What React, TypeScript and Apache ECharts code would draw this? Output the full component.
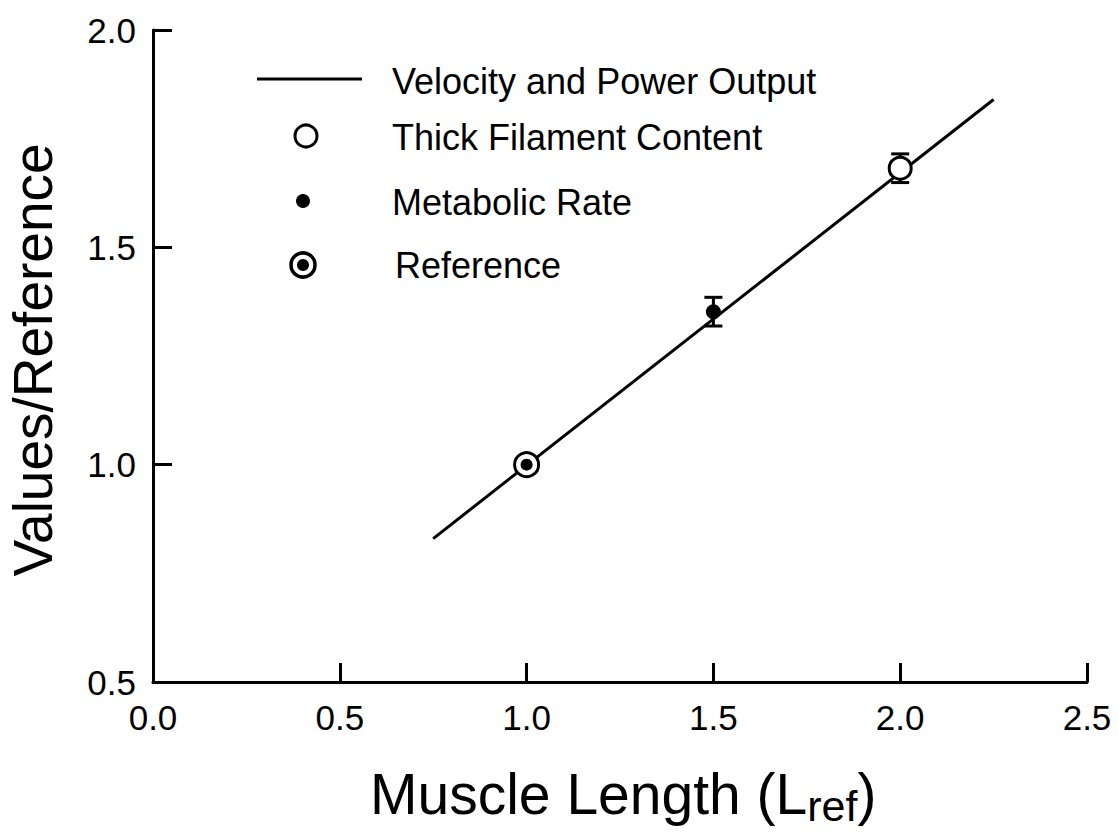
import React, { useEffect, useRef } from "react";
import * as echarts from "echarts";

// ---- data ----
const xAxisMin = 0.0;
const xAxisMax = 2.5;
const yAxisMin = 0.5;
const yAxisMax = 2.0;
const tickStep = 0.5;

const fitLineX = [0.75, 2.25];
const fitLineY = [0.83, 1.84];

const referenceX = [1.0];
const referenceY = [1.0];

const metabolicX = [1.5];
const metabolicY = [1.352];
const metabolicErr = [0.033];

const thickX = [2.0];
const thickY = [1.682];
const thickErr = [0.033];

const legendLabels = [
  "Velocity and Power Output",
  "Thick Filament Content",
  "Metabolic Rate",
  "Reference",
];
const xTitleMain = "Muscle Length (L";
const xTitleSub = "ref";
const xTitleEnd = ")";
const yTitle = "Values/Reference";

const FONT = "'Liberation Sans', Arial, Helvetica, sans-serif";

function measure(text: string, size: number): number {
  const c = document.createElement("canvas");
  const ctx = c.getContext("2d");
  if (!ctx) return text.length * size * 0.55;
  ctx.font = `${size}px "Liberation Sans", Arial, sans-serif`;
  return ctx.measureText(text).width;
}

export default function App() {
  const ref = useRef<HTMLDivElement>(null);
  useEffect(() => {
    if (!ref.current) return;
    const chart = echarts.init(ref.current, null, { renderer: "svg" });

    const mainSize = 57;
    const subSize = 43;
    const mainX = 370;
    const wMain = measure(xTitleMain, mainSize);
    const wSub = measure(xTitleSub, subSize);

    const errData = [
      ...metabolicX.map((x, i) => [x, metabolicY[i], metabolicErr[i]]),
      ...thickX.map((x, i) => [x, thickY[i], thickErr[i]]),
    ];

    const axisCommon = {
      type: "value" as const,
      interval: tickStep,
      splitLine: { show: false },
      axisLine: { show: true, lineStyle: { color: "#000", width: 3 } },
      axisTick: { show: true, inside: true, length: 19, lineStyle: { color: "#000", width: 3 } },
    };

    const labelCommon = {
      fontSize: 35,
      color: "#000",
      fontFamily: FONT,
      showMinLabel: true,
      showMaxLabel: true,
      hideOverlap: false,
      formatter: (v: number) => v.toFixed(1),
    };

    chart.setOption({
      animation: false,
      backgroundColor: "#fff",
      grid: {
        left: 153,
        right: 31,
        top: 30,
        bottom: 150,
        containLabel: false,
        outerBoundsMode: "none",
      },
      xAxis: { ...axisCommon, min: xAxisMin, max: xAxisMax, axisLabel: { ...labelCommon, margin: 18 } },
      yAxis: { ...axisCommon, min: yAxisMin, max: yAxisMax, axisLabel: { ...labelCommon, margin: 17 } },
      series: [
        {
          type: "line",
          data: fitLineX.map((x, i) => [x, fitLineY[i]]),
          symbol: "none",
          lineStyle: { color: "#000", width: 3 },
          z: 1,
        },
        {
          type: "custom",
          data: errData,
          z: 2,
          renderItem: (params: any, api: any) => {
            const x = api.value(0);
            const y = api.value(1);
            const e = api.value(2);
            const top = api.coord([x, y + e]);
            const bot = api.coord([x, y - e]);
            const hw = 9;
            const st = { stroke: "#000", lineWidth: 3 };
            return {
              type: "group",
              children: [
                { type: "line", shape: { x1: top[0], y1: top[1], x2: bot[0], y2: bot[1] }, style: st },
                { type: "line", shape: { x1: top[0] - hw, y1: top[1], x2: top[0] + hw, y2: top[1] }, style: st },
                { type: "line", shape: { x1: bot[0] - hw, y1: bot[1], x2: bot[0] + hw, y2: bot[1] }, style: st },
              ],
            };
          },
        },
        {
          type: "scatter",
          data: thickX.map((x, i) => [x, thickY[i]]),
          symbol: "circle",
          symbolSize: 22,
          itemStyle: { color: "#fff", borderColor: "#000", borderWidth: 3, opacity: 1 },
          z: 3,
        },
        {
          type: "scatter",
          data: metabolicX.map((x, i) => [x, metabolicY[i]]),
          symbol: "circle",
          symbolSize: 15,
          itemStyle: { color: "#000", opacity: 1 },
          z: 3,
        },
        {
          type: "scatter",
          data: referenceX.map((x, i) => [x, referenceY[i]]),
          symbol: "circle",
          symbolSize: 24,
          itemStyle: { color: "#fff", borderColor: "#000", borderWidth: 3, opacity: 1 },
          z: 3,
        },
        {
          type: "scatter",
          data: referenceX.map((x, i) => [x, referenceY[i]]),
          symbol: "circle",
          symbolSize: 12,
          itemStyle: { color: "#000", opacity: 1 },
          z: 4,
        },
      ],
      graphic: [
        // legend symbols
        { type: "line", shape: { x1: 257, y1: 79, x2: 362, y2: 79 }, style: { stroke: "#000", lineWidth: 3 } },
        { type: "circle", shape: { cx: 306, cy: 136, r: 11 }, style: { fill: "#fff", stroke: "#000", lineWidth: 3 } },
        { type: "circle", shape: { cx: 303, cy: 201, r: 7 }, style: { fill: "#000" } },
        { type: "circle", shape: { cx: 303, cy: 265, r: 12 }, style: { fill: "#fff", stroke: "#000", lineWidth: 3.5 } },
        { type: "circle", shape: { cx: 303, cy: 265, r: 6 }, style: { fill: "#000" } },
        // legend texts
        ...legendLabels.map((t, i) => ({
          type: "text",
          x: i === 3 ? 395 : 392,
          y: [81, 137.5, 202, 265.5][i],
          style: { text: t, font: `36px ${FONT}`, fill: "#000", textAlign: "left", textVerticalAlign: "middle" },
        })),
        // x title
        {
          type: "text",
          x: mainX,
          y: 794,
          style: { text: xTitleMain, font: `${mainSize}px ${FONT}`, fill: "#000", textAlign: "left", textVerticalAlign: "middle" },
        },
        {
          type: "text",
          x: mainX + wMain,
          y: 806,
          style: { text: xTitleSub, font: `${subSize}px ${FONT}`, fill: "#000", textAlign: "left", textVerticalAlign: "middle" },
        },
        {
          type: "text",
          x: mainX + wMain + wSub,
          y: 794,
          style: { text: xTitleEnd, font: `${mainSize}px ${FONT}`, fill: "#000", textAlign: "left", textVerticalAlign: "middle" },
        },
        // y title
        {
          type: "text",
          x: 33,
          y: 360,
          rotation: Math.PI / 2,
          style: { text: yTitle, font: `55px ${FONT}`, fill: "#000", textAlign: "center", textVerticalAlign: "middle" },
        },
      ],
    });
    return () => chart.dispose();
  }, []);
  return (
    <div
      ref={ref}
      style={{ position: "fixed", left: 0, top: 0, width: 1118, height: 832, background: "#fff" }}
    />
  );
}
